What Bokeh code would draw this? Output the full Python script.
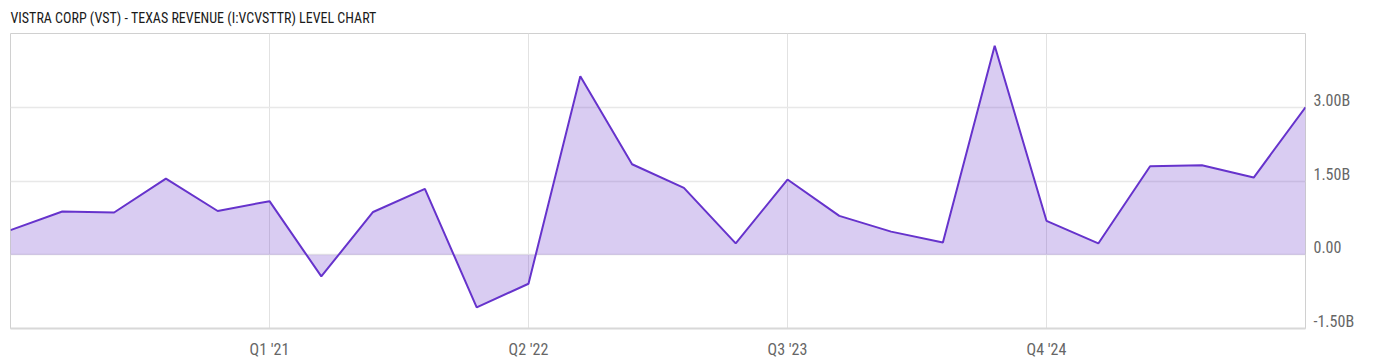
from bokeh.plotting import figure
from bokeh.models import FixedTicker, Range1d, LinearAxis, ColumnDataSource
from bokeh.embed import file_html
from bokeh.resources import INLINE

quarters = ["Q4 '19", "Q1 '20", "Q2 '20", "Q3 '20", "Q4 '20", "Q1 '21", "Q2 '21", "Q3 '21",
            "Q4 '21", "Q1 '22", "Q2 '22", "Q3 '22", "Q4 '22", "Q1 '23", "Q2 '23", "Q3 '23",
            "Q4 '23", "Q1 '24", "Q2 '24", "Q3 '24", "Q4 '24", "Q1 '25", "Q2 '25", "Q3 '25",
            "Q4 '25", "Q1 '26"]
revenue_b = [0.50, 0.88, 0.86, 1.55, 0.89, 1.09, -0.44, 0.87, 1.34, -1.07, -0.59, 3.63, 1.84,
             1.36, 0.23, 1.53, 0.79, 0.47, 0.25, 4.25, 0.69, 0.23, 1.80, 1.82, 1.57, 3.00]
x_tick_labels = ["Q1 '21", "Q2 '22", "Q3 '23", "Q4 '24"]
y_ticks = [-1.5, 0.0, 1.5, 3.0]
y_tick_labels = ["-1.50B", "0.00", "1.50B", "3.00B"]

FONT = "Roboto Condensed, Liberation Sans Narrow, Arial Narrow, Roboto, sans-serif"
LINE = "#6633CC"
Y0, Y1 = -1.5, 4.5
FRAME_H = 295
LABEL_SHIFT = (Y1 - Y0) * 7.0 / FRAME_H  # labels sit ~7px above their gridlines

x = list(range(len(quarters)))
x_ticks = [quarters.index(t) for t in x_tick_labels]

p = figure(width=1400, height=357, output_backend="svg", toolbar_location=None,
           x_range=Range1d(0, len(quarters) - 1), y_range=Range1d(Y0, Y1),
           frame_width=1295, frame_height=FRAME_H,
           min_border_left=10, min_border_right=95, min_border_bottom=0, min_border_top=0)

p.title.text = "VISTRA CORP (VST) - TEXAS REVENUE (I:VCVSTTR) LEVEL CHART"
p.title.text_font = FONT
p.title.text_font_size = "14px"
p.title.text_font_style = "normal"
p.title.text_color = "#1a1a1a"
p.title.align = "left"
p.title.offset = 0
p.title.standoff = 15

p.background_fill_color = "white"
p.border_fill_color = "white"
p.outline_line_color = "#d0d0d0"
p.outline_line_width = 1

src = ColumnDataSource(dict(x=x, y=revenue_b))
p.varea(x="x", y1=0, y2="y", source=src, fill_color=LINE, fill_alpha=0.25)
p.line(x="x", y="y", source=src, line_color=LINE, line_width=2)

# x axis
p.xaxis.ticker = FixedTicker(ticks=x_ticks)
p.xaxis.major_label_overrides = {t: l for t, l in zip(x_ticks, x_tick_labels)}
p.xaxis.axis_line_color = "#d8d8d8"
p.xaxis.axis_line_width = 2
p.xaxis.major_tick_line_color = None
p.xaxis.minor_tick_line_color = None
p.xaxis.major_label_text_font = FONT
p.xaxis.major_label_text_font_size = "16px"
p.xaxis.major_label_text_color = "#666666"
p.xaxis.major_label_standoff = 5

# hide default left y axis, add right axis on a slightly shifted range
p.yaxis.visible = False
p.extra_y_ranges = {"lab": Range1d(Y0 - LABEL_SHIFT, Y1 - LABEL_SHIFT)}
ax = LinearAxis(y_range_name="lab", ticker=FixedTicker(ticks=y_ticks))
ax.major_label_overrides = {t: l for t, l in zip(y_ticks, y_tick_labels)}
ax.axis_line_color = None
ax.major_tick_line_color = None
ax.minor_tick_line_color = None
ax.major_label_text_font = FONT
ax.major_label_text_font_size = "16px"
ax.major_label_text_color = "#666666"
ax.major_label_standoff = 2
p.add_layout(ax, "right")

p.xgrid.ticker = FixedTicker(ticks=x_ticks)
p.xgrid.grid_line_color = "#e2e2e2"
p.xgrid.grid_line_width = 1
p.ygrid.ticker = FixedTicker(ticks=y_ticks)
p.ygrid.grid_line_color = "#e8e8e8"
p.ygrid.grid_line_width = 1.5

open("out.html", "w").write(file_html(p, INLINE))
